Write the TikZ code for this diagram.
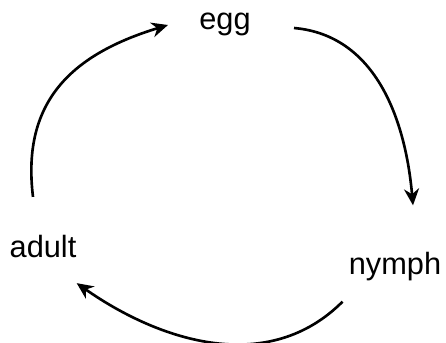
\documentclass[tikz,border=0pt]{standalone}
\usepackage{fontspec}
\setmainfont{Liberation Sans}
\usepackage{tikz}
\usetikzlibrary{arrows.meta,calc}

\begin{document}
\begin{tikzpicture}[
  x=0.02cm, y=-0.02cm,
  stage/.style={inner sep=0pt,font=\fontsize{17.5}{21}\selectfont},
  cyc/.style={-{Stealth[length=3.3mm,width=3mm]},line width=1.5pt}
]
  \useasboundingbox (0,0) rectangle (446,342);
  \node[stage] (egg)   at (225,24)  {egg};
  \node[stage] (nymph) at (395,267) {nymph};
  \node[stage] (adult) at (43,246.5) {adult};
  \draw[cyc] ($(egg.east)+(43,4)$) to[out=-5,in=95] ($(nymph.north)+(18,-47)$);
  \draw[cyc] ($(nymph.south west)+(-6,20)$) to[out=-135,in=-35] ($(adult.south east)+(0,25)$);
  \draw[cyc] ($(adult.north)+(-10,-38)$) to[out=97,in=-163,looseness=1.15] ($(egg.west)+(-31,1)$);
\end{tikzpicture}
\end{document}
